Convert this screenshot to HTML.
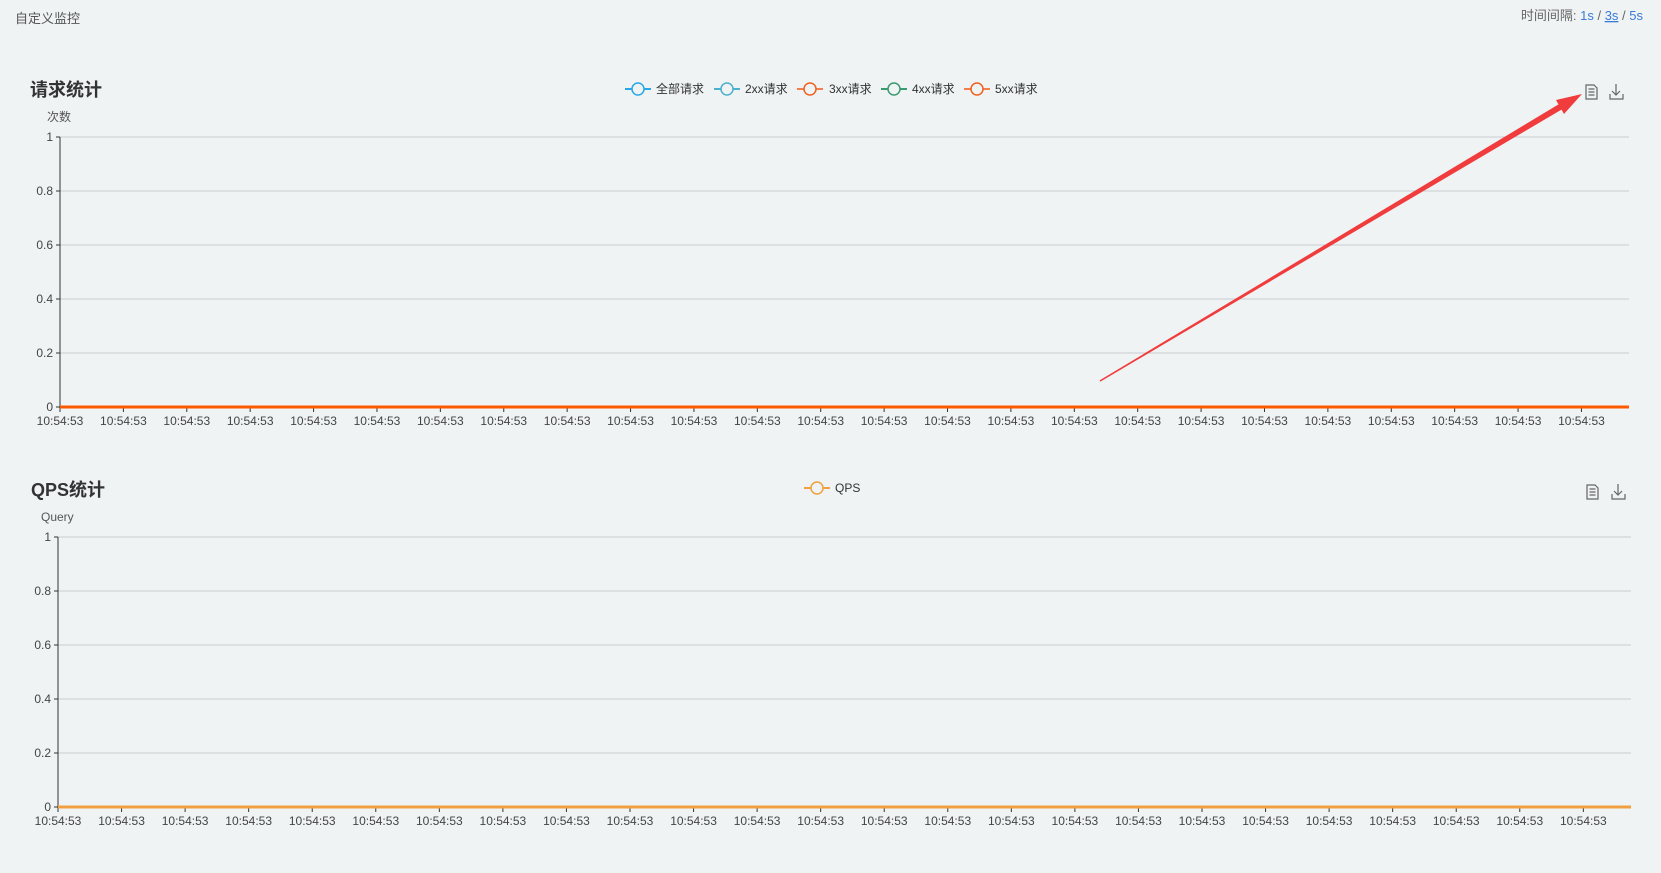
<!DOCTYPE html>
<html><head><meta charset="utf-8">
<style>
html,body{margin:0;padding:0;background:#eff3f4;width:1661px;height:873px;overflow:hidden;font-family:"Liberation Sans","Noto Sans CJK SC",sans-serif;}
svg{position:absolute;left:0;top:0}
</style></head>
<body>
<svg id="s" width="1661" height="873" font-family="Liberation Sans, Noto Sans CJK SC, sans-serif">
<text x="15" y="23" font-size="13" fill="#555">自定义监控</text>
<text x="1643" y="20" font-size="13" text-anchor="end" fill="#666">时间间隔: <tspan fill="#3a7bd5">1s</tspan> / <tspan fill="#3a7bd5" text-decoration="underline">3s</tspan> / <tspan fill="#3a7bd5">5s</tspan></text>
<text x="30" y="96" font-size="18" font-weight="bold" fill="#333">请求统计</text>
<text x="31" y="496" font-size="18" font-weight="bold" fill="#333">QPS统计</text>
<text x="47" y="121" font-size="12" fill="#555">次数</text>
<text x="41" y="521" font-size="12" fill="#555">Query</text>
<g id="c1"></g><g id="c2"></g>
<g font-size="12" fill="#333">
<g><line x1="625" y1="89" x2="651" y2="89" stroke="#2aa7e8" stroke-width="2"/><circle cx="638" cy="89" r="6" fill="#eff3f4" stroke="#2aa7e8" stroke-width="1.5"/><text x="656" y="93">全部请求</text></g>
<g><line x1="714" y1="89" x2="740" y2="89" stroke="#4db0cc" stroke-width="2"/><circle cx="727" cy="89" r="6" fill="#eff3f4" stroke="#4db0cc" stroke-width="1.5"/><text x="745" y="93">2xx请求</text></g>
<g><line x1="797" y1="89" x2="823" y2="89" stroke="#f08050" stroke-width="2"/><circle cx="810" cy="89" r="6" fill="#eff3f4" stroke="#f06020" stroke-width="1.5"/><text x="829" y="93">3xx请求</text></g>
<g><line x1="881" y1="89" x2="907" y2="89" stroke="#3a9a70" stroke-width="2"/><circle cx="894" cy="89" r="6" fill="#eff3f4" stroke="#3a9a70" stroke-width="1.5"/><text x="912" y="93">4xx请求</text></g>
<g><line x1="964" y1="89" x2="990" y2="89" stroke="#f08050" stroke-width="2"/><circle cx="977" cy="89" r="6" fill="#eff3f4" stroke="#f06020" stroke-width="1.5"/><text x="995" y="93">5xx请求</text></g>
</g>
<g font-size="12" fill="#333"><line x1="804" y1="488" x2="830" y2="488" stroke="#f0a040" stroke-width="2"/><circle cx="817" cy="488" r="6" fill="#eff3f4" stroke="#f0a040" stroke-width="1.5"/><text x="835" y="492">QPS</text></g>
<g fill="none" stroke="#666" stroke-width="1.2"><path d="M1586 85h8l3 3v11h-11z"/><path d="M1588.5 89h6M1588.5 92h6M1588.5 95h6"/></g>
<g fill="none" stroke="#666" stroke-width="1.2"><path d="M1616 84v11M1612 91l4 4 4-4M1610 94v5h13v-5"/></g>
<g fill="none" stroke="#666" stroke-width="1.2"><path d="M1587 485h8l3 3v11h-11z"/><path d="M1589.5 489h6M1589.5 492h6M1589.5 495h6"/></g>
<g fill="none" stroke="#666" stroke-width="1.2"><path d="M1618 484v11M1614 491l4 4 4-4M1612 494v5h13v-5"/></g>
<path d="M1099.6 380.4 L1558.5 104.4 L1556 100 L1582 94 L1564 114 L1561.5 109.6 L1100.4 381.6 Z" fill="#f03c3c"/>
</svg>
<script>
var NS="http://www.w3.org/2000/svg";
var categories=[];for(var i=0;i<100;i++)categories.push("10:54:53");
var yTicks=[0,0.2,0.4,0.6,0.8,1];
var allReq=[],req2xx=[],req3xx=[],req4xx=[],req5xx=[],qps=[];
for(var i=0;i<100;i++){allReq.push(0);req2xx.push(0);req3xx.push(0);req4xx.push(0);req5xx.push(0);qps.push(0);}
function el(t,a,p){var e=document.createElementNS(NS,t);for(var k in a)e.setAttribute(k,a[k]);p.appendChild(e);return e;}
function chart(g,x0,x1,yTop,yBot,series,colors,names){
  var n=categories.length;
  function X(i){return x0+(x1-x0)*i/(n-1);}
  function Y(v){return yBot-(yBot-yTop)*v/1;}
  yTicks.forEach(function(t){
    var y=Y(t);
    if(t>0){var gl=el('line',{x1:x0,x2:x1,y1:y,y2:y,stroke:'#c8cccf','stroke-width':1},g);
    
    }
    el('line',{x1:x0-4,x2:x0,y1:y,y2:y,stroke:'#333'},g);
    var tl=el('text',{x:x0-7,y:y+4,'font-size':12,'text-anchor':'end',fill:'#444'},g);tl.textContent=t;
    
    
  });
  var ya=el('line',{x1:x0,x2:x0,y1:yTop,y2:yBot,stroke:'#333','stroke-width':1},g);
  
  
  var xa=el('line',{x1:x0,x2:x1,y1:yBot,y2:yBot,stroke:'#333'},g);
  
  
  for(var i=0;i<n;i+=4){
    el('line',{x1:X(i),x2:X(i),y1:yBot,y2:yBot+5,stroke:'#333'},g);
    var lb=el('text',{x:X(i),y:yBot+18,'font-size':12,'text-anchor':'middle',fill:'#444'},g);lb.textContent=categories[i];
    
    
  }
  series.forEach(function(s,k){
    var d=s.map(function(v,i){return (i?'L':'M')+X(i).toFixed(1)+' '+Y(v).toFixed(1);}).join('');
    var p=el('path',{d:d,fill:'none',stroke:colors[k],'stroke-width':3},g);
    
    
  });
}
chart(document.getElementById('c1'),60,1629,137,407,[allReq,req2xx,req3xx,req4xx,req5xx],['#2aa7e8','#4db0cc','#f06020','#3a9a70','#ff5a00'],['series-all','series-2xx','series-3xx','series-4xx','series-5xx']);
chart(document.getElementById('c2'),58,1631,537,807,[qps],['#f0a040'],['series-qps']);
</script>
</body></html>
